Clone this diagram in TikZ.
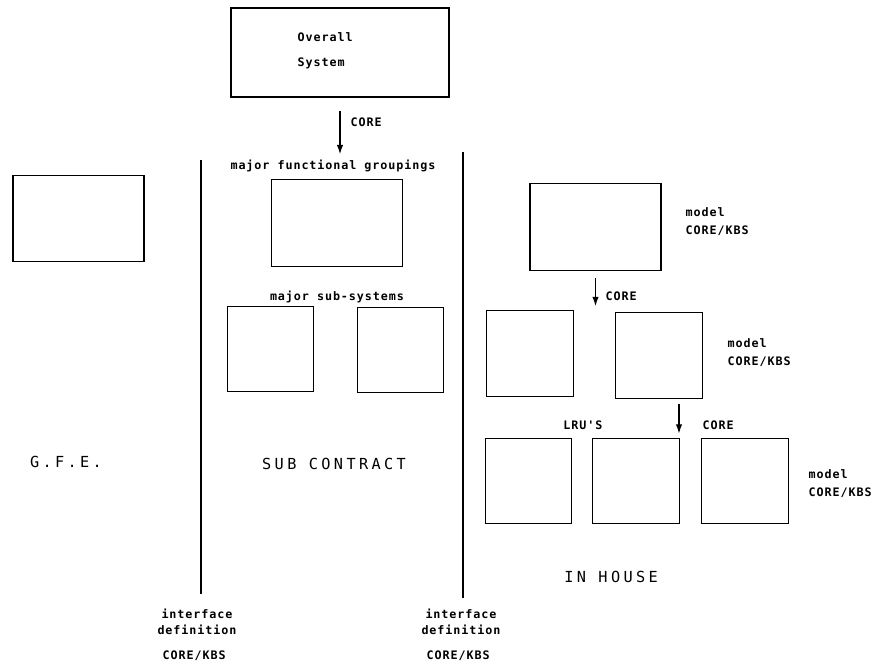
\documentclass[tikz,border=0pt]{standalone}
\usepackage{fontspec}
\setmainfont{DejaVu Sans}
\newfontfamily\tagfont[LetterSpace=8]{DejaVu Sans Mono}
\newfontfamily\headfont[LetterSpace=22]{DejaVu Sans Mono}
\usetikzlibrary{arrows.meta}

\begin{document}
\begin{tikzpicture}[x=0.03cm, y=-0.03cm,
		>={Latex[length=8pt,width=5.5pt]},   % Pfeilspitzen
		line width=1.1pt,
		wbox/.style={draw, minimum width=3.93cm, minimum height=2.6cm, inner sep=0pt},
		sbox/.style={draw, minimum width=2.6cm, minimum height=2.56cm, inner sep=0pt},
		tag/.style={font=\tagfont\bfseries\fontsize{10}{12}\selectfont, inner sep=0pt, text height=7pt, text depth=0pt},
		head/.style={font=\headfont\fontsize{13}{15}\selectfont, inner sep=0pt, text height=9.5pt, text depth=0pt}]
		\useasboundingbox (0,0) rectangle (887,666);
		% Gesamtsystem
		\node[draw, minimum width=6.54cm, minimum height=2.67cm] (sys) at (340,52.5) {};
		\node[tag, anchor=west] (overall) at (297,37) {Overall};
		\node[tag, anchor=west] (system) at (297,62) {System};
		\node[tag] (fglabel) at (333,165) {major functional groupings};
		\draw[->, shorten <=0.39cm, shorten >=0.18cm] (sys.south) -- (sys.south |- fglabel.north);
		\node[tag, anchor=west] (core1) at (350,122) {CORE};
		% Trennlinien
		\coordinate (d1top) at (201,160);
		\coordinate (d1bot) at (201,594);
		\coordinate (d2top) at (463,152);
		\coordinate (d2bot) at (463,598);
		\draw (d1top) -- (d1bot);
		\draw (d2top) -- (d2bot);
		% G.F.E.
		\node[wbox] (gfebox) at (78.5,218.5) {};
		\node[head] (gfe) at (66,462) {G.F.E.};
		% Unterauftrag
		\node[wbox] (fg) at (337,223) {};
		\node[tag] (sslabel) at (337,296) {major sub-systems};
		\node[sbox] (ss1) at (270.5,349) {};
		\node[sbox] (ss2) at (400.5,350) {};
		\node[head] (sub) at (334,464) {SUB CONTRACT};
		% Eigenfertigung
		\node[wbox] (m1) at (595.5,227) {};
		\node[sbox] (m2a) at (530,353.5) {};
		\node[sbox] (m2b) at (659,355.5) {};
		\draw[->, shorten <=0.21cm, shorten >=0.12cm] (m1.south) -- (m1.south |- m2a.north);
		\node[tag, anchor=west] (core2) at (605,296) {CORE};
		\node[tag] (lrulabel) at (583,425) {LRU'S};
		\foreach \i/\x in {1/528.5, 2/636, 3/745}
			\node[sbox] (lru\i) at (\x,481) {};
		\coordinate (c3) at (679,404);
		\draw[->, shorten >=0.12cm] (c3) -- (c3 |- lru2.north);
		\node[tag, anchor=west] (core3) at (702,425) {CORE};
		\node[head] (house) at (611,577) {IN HOUSE};
		% Modelle
		\foreach \name/\x/\y in {mod1/685/212, mod2/727/343, mod3/808/474} {
			\node[tag, anchor=west] (\name a) at (\x,\y) {model};
			\node[tag, anchor=west] (\name b) at (\x,\y+18) {CORE/KBS};
		}
		% Schnittstellen
		\foreach \name/\x in {ifl/197, ifr/461} {
			\node[tag] (\name a) at (\x,614) {interface};
			\node[tag] (\name b) at (\x,630) {definition};
			\node[tag, anchor=west] (\name c) at (\x-35,655) {CORE/KBS};
		}
	\end{tikzpicture}
\end{document}
